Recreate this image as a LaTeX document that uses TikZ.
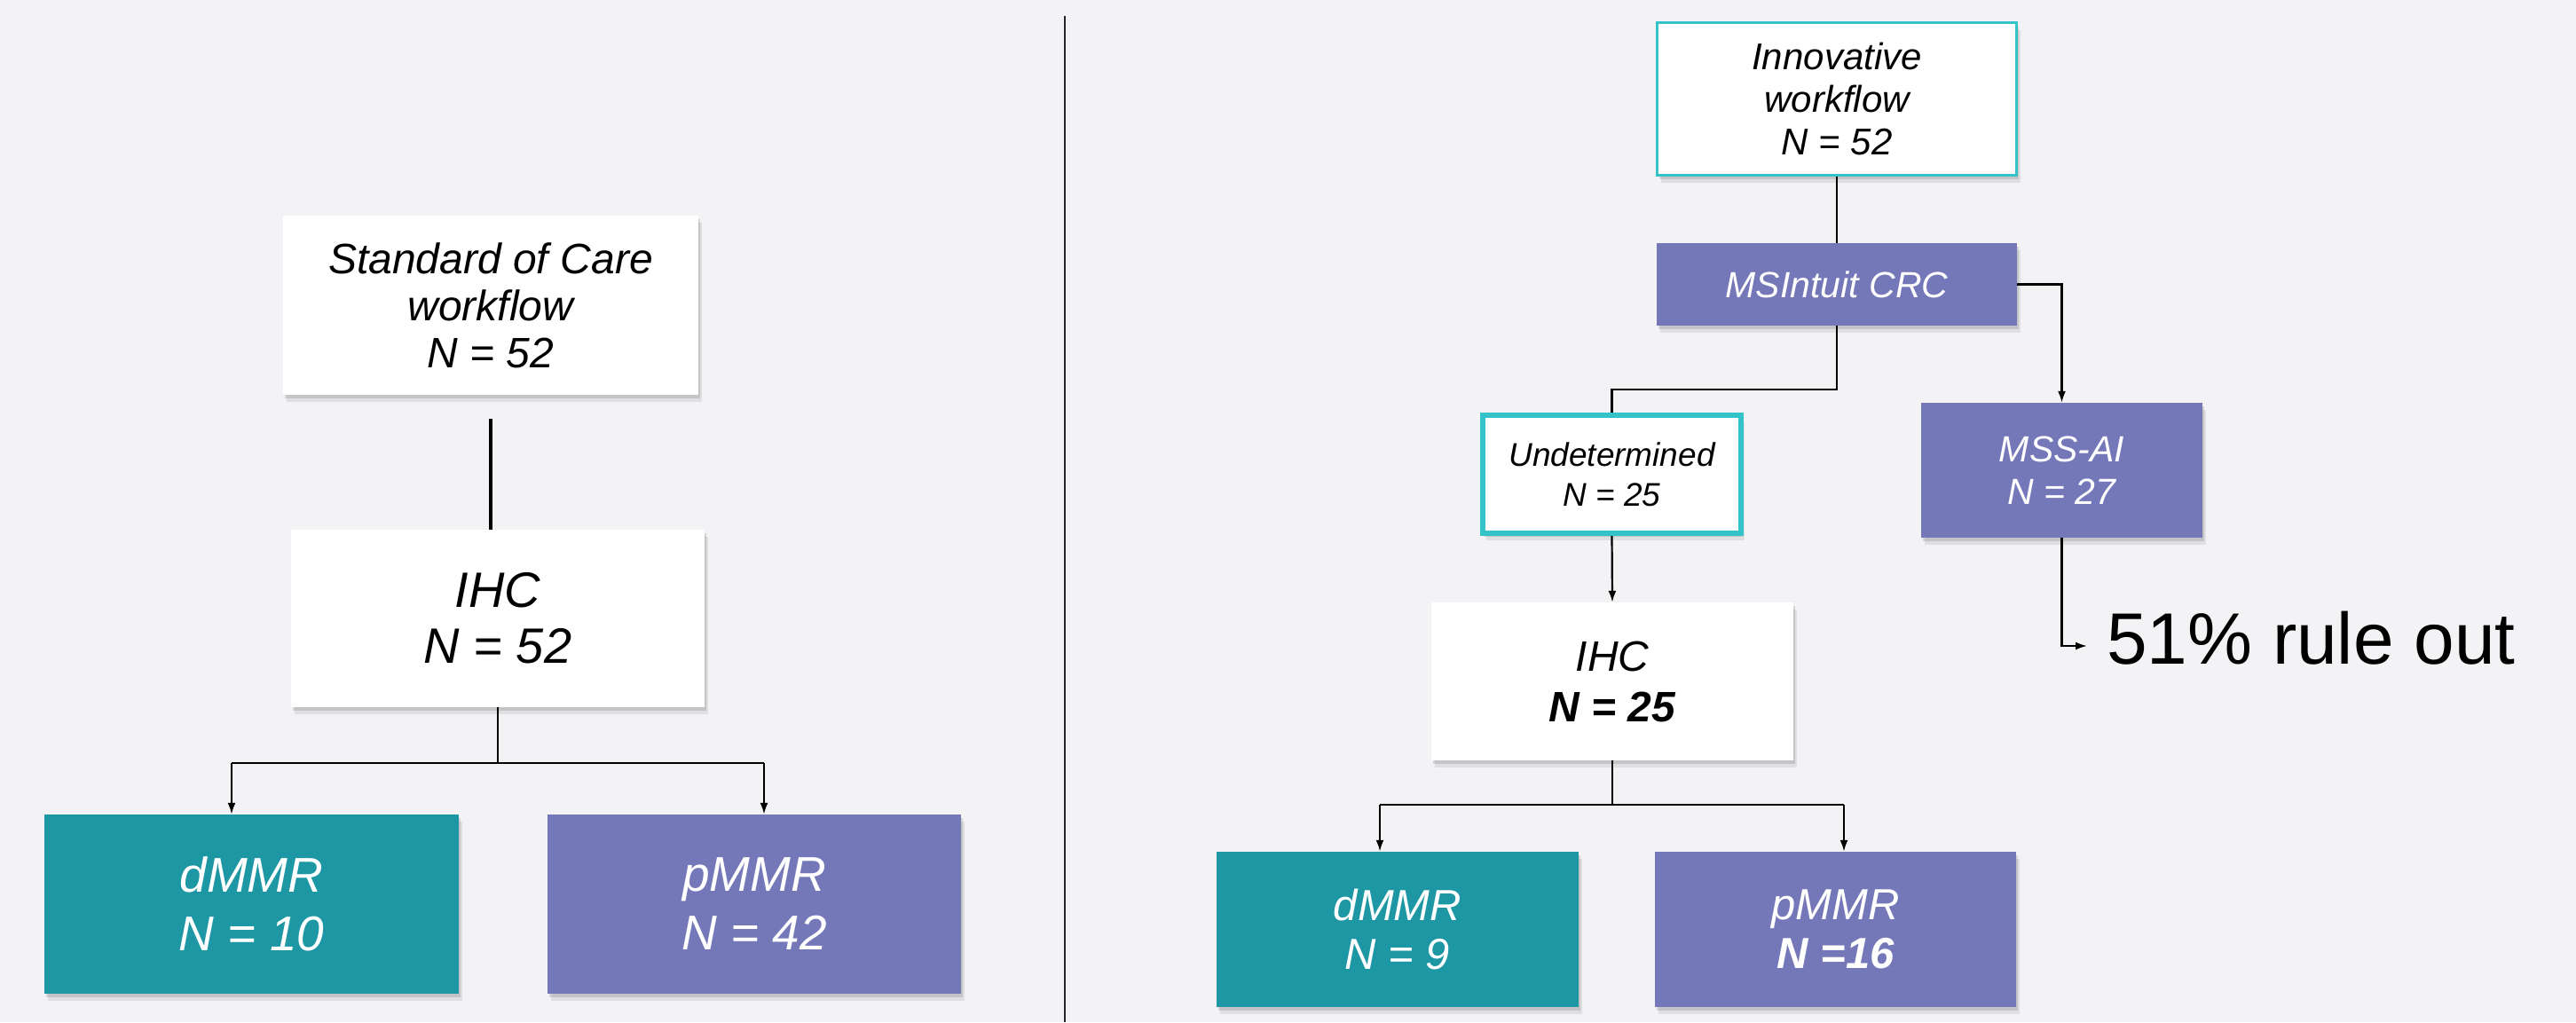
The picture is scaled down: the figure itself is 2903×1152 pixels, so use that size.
\documentclass[tikz,border=0pt]{standalone}
\usepackage{fontspec}
\setmainfont{Liberation Sans}
\usetikzlibrary{arrows.meta,shadows,calc}
\definecolor{bgcol}{HTML}{F3F3F5}
\definecolor{tealfill}{HTML}{1D97A3}
\definecolor{purfill}{HTML}{7578B8}
\definecolor{tealline}{HTML}{33C3C8}
\begin{document}
\begin{tikzpicture}[x=1pt,y=-1pt,
  shad/.style={drop shadow={shadow xshift=2pt,shadow yshift=-4pt,opacity=0.12,fill=black},
               drop shadow={shadow xshift=4pt,shadow yshift=-8pt,opacity=0.08,fill=black}},
  wbox/.style={shad,rectangle,fill=white,inner sep=0pt,align=center,text=black},
  tbox/.style={shad,rectangle,fill=tealfill,inner sep=0pt,align=center,text=white},
  pbox/.style={shad,rectangle,fill=purfill,inner sep=0pt,align=center,text=white},
  conn/.style={draw=black,line width=2.2pt},
  arr/.style={conn,-{Latex[length=13pt,width=9pt]}},
]
\fill[bgcol] (0,0) rectangle (2903,1152);
\useasboundingbox (0,0) rectangle (2903,1152);

% divider
\coordinate (dv1) at (1200,18);
\coordinate (dv2) at (1200,1152);
\draw[line width=2.5pt,black!85] (dv1) -- (dv2);

% left workflow
\node[wbox,minimum width=468pt,minimum height=202pt,font=\itshape\fontsize{48}{53}\selectfont] (soc) at (553,344) {Standard of Care\\workflow\\N = 52};
\node[wbox,minimum width=466pt,minimum height=200pt,font=\itshape\fontsize{56}{63}\selectfont] (ihcL) at (561,697) {IHC\\N = 52};
\node[tbox,minimum width=467pt,minimum height=202pt,font=\itshape\fontsize{55}{66}\selectfont] (dL) at (283.5,1019) {dMMR\\N = 10};
\node[pbox,minimum width=466pt,minimum height=202pt,font=\itshape\fontsize{55}{66}\selectfont] (pL) at (850,1019) {pMMR\\N = 42};

\coordinate (c0) at ($(soc.south)+(0,27)$);
\draw[conn,line width=3.5pt] (c0) -- (c0 |- ihcL.north);
\coordinate (bl1) at (261,860);
\coordinate (bl2) at (861,860);
\draw[conn] (ihcL.south) -- (ihcL.south |- bl1);
\draw[conn] (bl1) -- (bl2);
\draw[arr] (bl1) -- (bl1 |- dL.north);
\draw[arr] (bl2) -- (bl2 |- pL.north);

% right workflow
\node[wbox,draw=tealline,line width=3pt,minimum width=405pt,minimum height=172pt,font=\itshape\fontsize{42}{48}\selectfont] (inno) at (2070,111.5) {Innovative\\workflow\\N = 52};
\node[pbox,minimum width=406pt,minimum height=93pt,font=\itshape\fontsize{41}{48}\selectfont] (msi) at (2070,320.5) {MSIntuit CRC};
\node[wbox,draw=tealline,line width=6pt,minimum width=291pt,minimum height=133pt,font=\itshape\fontsize{37}{45}\selectfont] (und) at (1816.5,534.5) {Undetermined\\N = 25};
\node[pbox,minimum width=317pt,minimum height=152pt,font=\itshape\fontsize{41}{48}\selectfont] (mss) at (2323.5,530) {MSS-AI\\N = 27};
\node[wbox,minimum width=408pt,minimum height=178pt,font=\itshape\fontsize{48}{57}\selectfont] (ihcR) at (1817,768) {IHC\\\textbf{N = 25}};
\node[tbox,minimum width=408pt,minimum height=175pt,font=\itshape\fontsize{49}{55}\selectfont] (dR) at (1575,1047.5) {dMMR\\N = 9};
\node[pbox,minimum width=407pt,minimum height=175pt,font=\itshape\fontsize{49}{55}\selectfont] (pR) at (2068.5,1047.5) {pMMR\\\textbf{N =16}};
\node[anchor=base west,inner sep=0pt,font=\fontsize{82}{90}\selectfont,text=black] (rule) at (2374,748) {51\% rule out};

\draw[conn] (inno.south) -- (msi.north);
\coordinate (cu) at (1816.5,439);
\draw[conn] (msi.south) |- (cu) -- (und.north);
\draw[arr] (msi.east) -| (mss.north);
\draw[arr] (und.south) -- (ihcR.north);
\coordinate (ra) at ($(rule.base west)+(-22,-20)$);
\draw[arr] (mss.south) |- (ra);

\coordinate (br1) at (1555,907);
\coordinate (br2) at (2078,907);
\draw[conn] (ihcR.south) -- (ihcR.south |- br1);
\draw[conn] (br1) -- (br2);
\draw[arr] (br1) -- (br1 |- dR.north);
\draw[arr] (br2) -- (br2 |- pR.north);
\end{tikzpicture}
\end{document}
